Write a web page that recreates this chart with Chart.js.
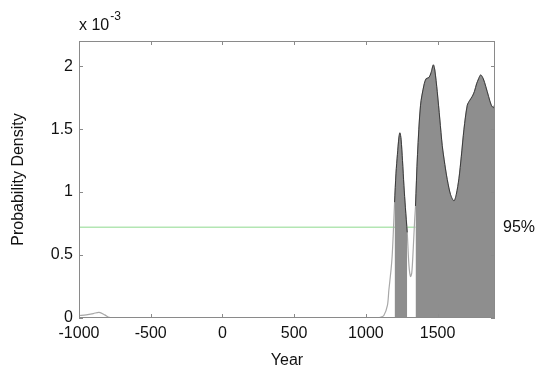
<!DOCTYPE html>
<html>
<head>
<meta charset="utf-8">
<script src="https://cdn.jsdelivr.net/npm/chart.js@4.4.0/dist/chart.umd.min.js"></script>
<style>
  body { margin: 0; background: #fff; }
  #wrap { width: 547px; height: 374px; }
</style>
</head>
<body>
<div id="wrap"><canvas id="pdf-chart" width="547" height="374"></canvas></div>
<script>
// Calibrated date density (values in units of 1e-3)
const years = [
  -1000, -950, -900, -860, -820, -790, -750, -500, 0, 500, 1000, 1080, 1100,
  1125, 1150, 1160, 1175, 1183, 1190, 1200, 1210, 1220, 1230, 1237, 1245,
  1255, 1265, 1275, 1288, 1300, 1311, 1320, 1330, 1340, 1346, 1360, 1381,
  1405, 1420, 1440, 1455, 1470, 1480, 1497, 1515, 1532, 1550, 1567, 1590,
  1614, 1630, 1649, 1665, 1684, 1707, 1725, 1742, 1757, 1772, 1786, 1800,
  1818, 1835, 1855, 1874, 1890, 1900
];
const density = [
  0.02, 0.025, 0.035, 0.045, 0.025, 0.005, 0, 0, 0, 0, 0, 0, 0.005,
  0.02, 0.1, 0.22, 0.38, 0.49, 0.65, 0.92, 1.15, 1.3, 1.43, 1.47, 1.42,
  1.25, 1.05, 0.88, 0.68, 0.42, 0.33, 0.36, 0.55, 0.78, 0.89, 1.3, 1.69,
  1.85, 1.9, 1.91, 1.95, 2.01, 1.97, 1.8, 1.58, 1.37, 1.22, 1.1, 0.98,
  0.93, 0.98, 1.11, 1.28, 1.5, 1.69, 1.73, 1.76, 1.8, 1.86, 1.9, 1.93,
  1.9, 1.84, 1.76, 1.69, 1.67, 1.71
];
// 95% highest density ranges
const hpdRanges = [[1200, 1288], [1346, 1900]];
const hpdLevel = 0.72;
const hpdLabel = "95%";

const xTicks = [-1000, -500, 0, 500, 1000, 1500];
const yTicks = [0, 0.5, 1, 1.5, 2];

const fontFamily = "'Liberation Sans', Arial, sans-serif";
const points = years.map((x, i) => ({ x: x, y: density[i] }));

function rangePoints(r) {
  return points.filter((p) => p.x >= r[0] && p.x <= r[1]);
}

// Box, inward ticks and extra labels
const framePlugin = {
  id: "frame",
  afterDraw(chart) {
    const ctx = chart.ctx;
    const a = chart.chartArea;
    const xs = chart.scales.x;
    const ys = chart.scales.y;
    ctx.save();
    ctx.strokeStyle = "#8a8a8a";
    ctx.lineWidth = 1;
    ctx.strokeRect(a.left + 0.5, a.top + 0.5, a.right - a.left - 1, a.bottom - a.top - 1);
    ctx.beginPath();
    xs.ticks.forEach((t) => {
      const px = Math.round(xs.getPixelForValue(t.value)) + 0.5;
      ctx.moveTo(px, a.bottom); ctx.lineTo(px, a.bottom - 4);
      ctx.moveTo(px, a.top); ctx.lineTo(px, a.top + 4);
    });
    ys.ticks.forEach((t) => {
      const py = Math.round(ys.getPixelForValue(t.value)) + 0.5;
      ctx.moveTo(a.left, py); ctx.lineTo(a.left + 4, py);
      ctx.moveTo(a.right, py); ctx.lineTo(a.right - 4, py);
    });
    ctx.stroke();

    ctx.fillStyle = "#111";
    ctx.textBaseline = "alphabetic";
    ctx.textAlign = "left";
    ctx.font = "16px " + fontFamily;
    ctx.fillText("x 10", a.left, 30);
    const w = ctx.measureText("x 10").width;
    ctx.font = "12px " + fontFamily;
    ctx.fillText("-3", a.left + w + 1, 20);

    ctx.font = "16px " + fontFamily;
    ctx.textBaseline = "middle";
    ctx.fillText(hpdLabel, a.right + 8, ys.getPixelForValue(hpdLevel));
    ctx.restore();
  }
};

new Chart(document.getElementById("pdf-chart"), {
  type: "line",
  data: {
    datasets: [
      {
        label: "threshold",
        data: [{ x: years[0], y: hpdLevel }, { x: hpdRanges[1][0], y: hpdLevel }],
        borderColor: "#b3e6b3",
        borderWidth: 1.5,
        pointRadius: 0,
        fill: false,
        order: 3
      },
      {
        label: "density",
        data: points,
        borderColor: "#a8a8a8",
        borderWidth: 1.2,
        pointRadius: 0,
        tension: 0.3,
        fill: false,
        order: 2
      },
      ...hpdRanges.map((r) => ({
        label: "hpd",
        data: rangePoints(r),
        borderColor: "#3a3a3a",
        backgroundColor: "#8e8e8e",
        borderWidth: 1,
        pointRadius: 0,
        tension: 0.3,
        fill: "origin",
        order: 1
      }))
    ]
  },
  options: {
    responsive: false,
    animation: false,
    layout: { padding: { top: 41, right: 52, left: 0, bottom: 0 } },
    plugins: {
      legend: { display: false },
      tooltip: { enabled: false }
    },
    scales: {
      x: {
        type: "linear",
        min: -1000,
        max: 1900,
        grid: { display: false, drawTicks: false },
        border: { display: false },
        afterBuildTicks: (s) => { s.ticks = xTicks.map((v) => ({ value: v })); },
        ticks: {
          autoSkip: false,
          maxRotation: 0,
          padding: 6,
          color: "#111",
          font: { family: fontFamily, size: 16 },
          callback: (v) => String(v)
        },
        title: {
          display: true,
          text: "Year",
          color: "#111",
          padding: { top: 0, bottom: 4 },
          font: { family: fontFamily, size: 16 }
        },
        afterFit: (s) => { s.height = 56; }
      },
      y: {
        min: 0,
        max: 2.2,
        grid: { display: false, drawTicks: false },
        border: { display: false },
        afterBuildTicks: (s) => { s.ticks = yTicks.map((v) => ({ value: v })); },
        ticks: {
          autoSkip: false,
          padding: 6,
          color: "#111",
          font: { family: fontFamily, size: 16 },
          callback: (v) => String(v)
        },
        title: {
          display: true,
          text: "Probability Density",
          color: "#111",
          padding: { top: 9, bottom: 0 },
          font: { family: fontFamily, size: 16 }
        },
        afterFit: (s) => { s.width = 79; }
      }
    }
  },
  plugins: [framePlugin]
});
</script>
</body>
</html>
